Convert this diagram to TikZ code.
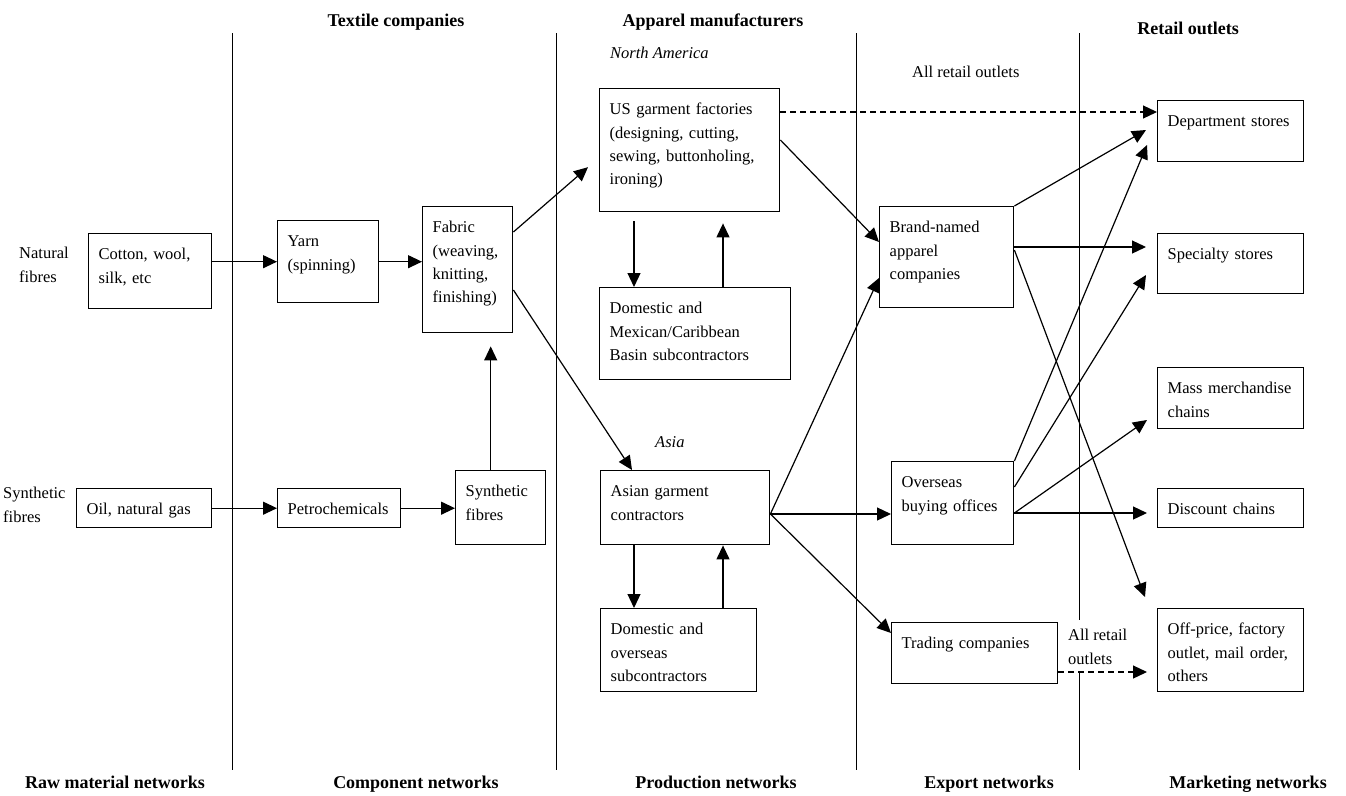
\documentclass[tikz,border=0pt]{standalone}
\usepackage{fontspec}
\setmainfont{Liberation Serif}
\usetikzlibrary{arrows.meta}

\begin{document}
\begin{tikzpicture}[x=1pt,y=-1pt,>={Triangle[length=14pt,width=13pt]},
  font=\fontsize{16.5}{23.3}\selectfont,
  box/.style={draw,line width=1.4pt,anchor=north west,align=left,inner xsep=10pt,inner ysep=10pt,text height=16pt},
  lbl/.style={anchor=base west,inner sep=0pt,align=left},
  head/.style={anchor=base,inner sep=0pt,font=\fontsize{18}{22}\selectfont\bfseries},
  arr/.style={->,line width=1.2pt},
  dsh/.style={->,line width=1.2pt,dash pattern=on 6pt off 4pt}]
\useasboundingbox (0,0) rectangle (1346,795);

\foreach \x in {232,556,856,1079}
  \draw[line width=1pt] (\x,33) -- (\x,770);

\node[head] (textile) at (396,27) {Textile companies};
\node[head] (apparel) at (713,27) {Apparel manufacturers};
\node[head] (retail) at (1188,34) {Retail outlets};
\node[head] (raw) at (115,788) {Raw material networks};
\node[head] (comp) at (416,788) {Component networks};
\node[head] (prod) at (716,788) {Production networks};
\node[head] (export) at (989,788) {Export networks};
\node[head] (mkt) at (1248,788) {Marketing networks};

% two-line labels sit on their last baseline
\node[lbl] (natural) at (19,282) {Natural\\fibres};
\node[lbl] (synthetic) at (3,522) {Synthetic\\fibres};
\node[lbl,font=\fontsize{16.5}{23.3}\selectfont\itshape] (northam) at (610,58) {North America};
\node[lbl,font=\fontsize{16.5}{23.3}\selectfont\itshape] (asia) at (655,447) {Asia};
\node[lbl] (allret) at (912,77) {All retail outlets};
\node[lbl,fill=white,inner xsep=2pt,inner ysep=9pt] (allret2) at (1066,664) {All retail\\outlets};

\node[box,text width=103pt,text depth=39pt] (cotton) at (88,233) {Cotton, wool,\\silk, etc};
\node[box,text width=115pt,text depth=3pt] (oil) at (76,488) {Oil, natural gas};
\node[box,text width=81pt,text depth=46pt] (yarn) at (277,220) {Yarn\\(spinning)};
\node[box,text width=103pt,text depth=3pt] (petro) at (277,488) {Petrochemicals};
\node[box,text width=70pt,text depth=90pt] (fabric) at (422,206) {Fabric\\(weaving,\\knitting,\\finishing)};
\node[box,text width=70pt,text depth=38pt] (sfib) at (455,470) {Synthetic\\fibres};
\node[box,text width=160pt,text depth=87pt] (us) at (599,88) {US garment factories\\(designing, cutting,\\sewing, buttonholing,\\ironing)};
\node[box,text width=171pt,text depth=56pt] (dommex) at (599,287) {Domestic and\\Mexican/Caribbean\\Basin subcontractors};
\node[box,text width=149pt,text depth=38pt] (asian) at (600,470) {Asian garment\\contractors};
\node[box,text width=136pt,text depth=47pt] (domov) at (600,608) {Domestic and\\overseas\\subcontractors};
\node[box,text width=114pt,text depth=65pt] (brand) at (879,206) {Brand-named\\apparel\\companies};
\node[box,text width=102pt,text depth=47pt] (overseas) at (891,461) {Overseas\\buying offices};
\node[box,text width=146pt,text depth=25pt] (trading) at (891,622) {Trading companies};
\node[box,text width=126pt,text depth=25pt] (dept) at (1157,100) {Department stores};
\node[box,text width=126pt,text depth=24pt] (spec) at (1157,233) {Specialty stores};
\node[box,text width=126pt,text depth=25pt] (mass) at (1157,367) {Mass merchandise\\chains};
\node[box,text width=126pt,text depth=3pt] (disc) at (1157,488) {Discount chains};
\node[box,text width=126pt,text depth=47pt] (offp) at (1157,608) {Off-price, factory\\outlet, mail order,\\others};

\draw[arr] (cotton.east |- yarn.west) -- (yarn.west);
\draw[arr] (yarn.east) -- (yarn.east -| fabric.west);
\draw[arr] (oil) -- (petro);
\draw[arr] (petro.east) -- (petro.east -| sfib.west);
\draw[arr,shorten >=13pt] ([xshift=-10pt]sfib.north) -- ([xshift=-10pt]sfib.north |- fabric.south);
\draw[arr] ([yshift=-26pt]fabric.north east) -- ([xshift=-11pt,yshift=-17pt]us.west);
\draw[arr] ([yshift=-84pt]fabric.north east) -- ([xshift=32pt]asian.north west);

\draw[arr,shorten <=9pt] ([xshift=35pt]us.south west) -- ([xshift=35pt]us.south west |- dommex.north);
\draw[arr,shorten >=11pt] ([xshift=124pt]dommex.north west) -- ([xshift=124pt]dommex.north west |- us.south);
\draw[arr] ([xshift=34pt]asian.south west) -- ([xshift=34pt]asian.south west |- domov.north);
\draw[arr] ([xshift=123pt]domov.north west) -- ([xshift=123pt]domov.north west |- asian.south);

\coordinate (usd) at ([yshift=-24pt]us.north east);
\draw[dsh] (usd) -- (usd -| dept.west);
\draw[arr] ([yshift=-52pt]us.north east) -- ([yshift=-36pt]brand.north west);
\coordinate (aout) at ([yshift=-44pt]asian.north east);
\draw[arr] (aout) -- ([yshift=-72pt]brand.north west);
\draw[arr] (aout) -- (aout -| overseas.west);
\draw[arr] (aout) -- ([yshift=-11pt]trading.north west);

\draw[arr] (brand.north east) -- ([xshift=-11pt,yshift=-30pt]dept.north west);
\draw[arr] ([yshift=-41pt]brand.north east) -- ([xshift=-11pt,yshift=-14pt]spec.north west);
\draw[arr] ([yshift=-44pt]brand.north east) -- ([xshift=-12pt,yshift=11pt]offp.north west);
\draw[arr] (overseas.north east) -- ([xshift=-10pt,yshift=-45pt]dept.north west);
\draw[arr] ([yshift=-26pt]overseas.north east) -- ([xshift=-11pt,yshift=-42pt]spec.north west);
\coordinate (oout) at ([yshift=-52pt]overseas.north east);
\draw[arr] (oout) -- ([xshift=-10pt,yshift=-53pt]mass.north west);
\draw[arr,shorten >=10pt] (oout) -- (oout -| disc.west);
\coordinate (tout) at ([yshift=-50pt]trading.north east);
\draw[dsh,shorten >=10pt] (tout) -- (tout -| offp.west);
\end{tikzpicture}
\end{document}
